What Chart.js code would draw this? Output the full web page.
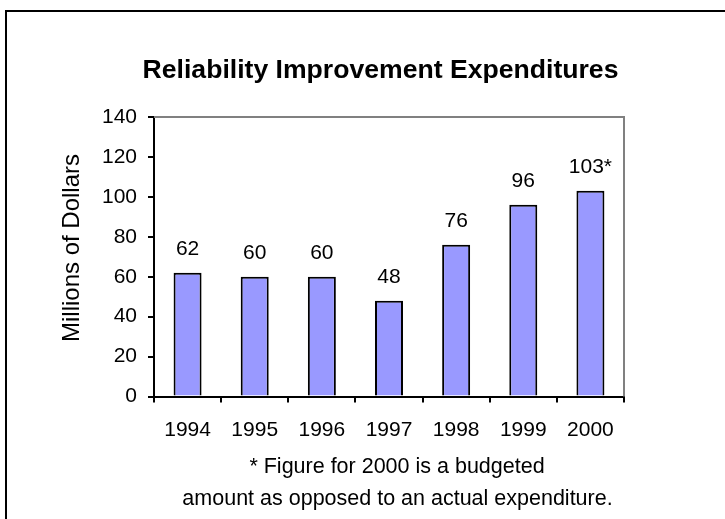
<!DOCTYPE html>
<html>
<head>
<meta charset="utf-8">
<title>Reliability Improvement Expenditures</title>
<script src="https://cdn.jsdelivr.net/npm/chart.js@4.4.0/dist/chart.umd.min.js"></script>
<style>
  html, body { margin: 0; padding: 0; background: #ffffff; overflow: hidden; }
  #graficoGastos { display: block; }
</style>
</head>
<body>
<canvas id="graficoGastos" width="725" height="519"></canvas>
<script>
// Datos del gráfico
var anios = ['1994', '1995', '1996', '1997', '1998', '1999', '2000'];
var gastos = [62, 60, 60, 48, 76, 96, 103];
var marcas = ['', '', '', '', '', '', '*'];
var ticksY = [0, 20, 40, 60, 80, 100, 120, 140];

var titulo = 'Reliability Improvement Expenditures';
var tituloEjeY = 'Millions of Dollars';
var notas = ['* Figure for 2000 is a budgeted', 'amount as opposed to an actual expenditure.'];

var fuente = "'Liberation Sans', Arial, sans-serif";

// Textos, marco y etiquetas de valor dibujados a mano
var textosExtra = {
    id: 'textosExtra',
    afterDraw: function (chart) {
        var ctx = chart.ctx;
        var area = chart.chartArea;
        ctx.save();

        // marco exterior (solo se ven el lado izquierdo y el de arriba)
        ctx.strokeStyle = '#000000';
        ctx.lineWidth = 2;
        ctx.beginPath();
        ctx.moveTo(6, chart.height + 5);
        ctx.lineTo(6, 11);
        ctx.lineTo(chart.width + 5, 11);
        ctx.stroke();

        // borde gris del área de trazado
        ctx.strokeStyle = '#808080';
        ctx.beginPath();
        ctx.moveTo(area.left, area.top);
        ctx.lineTo(area.right, area.top);
        ctx.lineTo(area.right, area.bottom);
        ctx.stroke();

        ctx.fillStyle = '#000000';
        ctx.textAlign = 'center';
        ctx.textBaseline = 'alphabetic';

        // etiquetas encima de cada barra
        ctx.font = '21px ' + fuente;
        var meta = chart.getDatasetMeta(0);
        meta.data.forEach(function (barra, i) {
            ctx.fillText(gastos[i] + marcas[i], barra.x, barra.y - 18);
        });

        // título
        ctx.font = 'bold 26.6px ' + fuente;
        ctx.fillText(titulo, 380.5, 78);

        // nota al pie
        ctx.font = '21.5px ' + fuente;
        ctx.fillText(notas[0], 397, 472.5);
        ctx.fillText(notas[1], 397.5, 504.5);

        // título del eje Y
        ctx.translate(72, 248);
        ctx.rotate(-Math.PI / 2);
        ctx.textBaseline = 'middle';
        ctx.font = '24px ' + fuente;
        ctx.fillText(tituloEjeY, 0, 0);

        ctx.restore();
    }
};

function crearGrafico() {
    var ctx = document.getElementById('graficoGastos').getContext('2d');

    var config = {
        type: 'bar',
        data: {
            labels: anios,
            datasets: [{
                label: titulo,
                data: gastos,
                backgroundColor: '#9999ff',
                borderColor: '#000000',
                borderWidth: 2,
                categoryPercentage: 1,
                barPercentage: 0.417
            }]
        },
        options: {
            responsive: false,
            animation: false,
            layout: {
                padding: { left: 20, right: 101, top: 117, bottom: 0 }
            },
            plugins: {
                legend: { display: false },
                title: { display: false },
                tooltip: { enabled: false }
            },
            scales: {
                x: {
                    afterFit: function (scale) { scale.height = 122.5; },
                    grid: {
                        offset: true,
                        drawOnChartArea: false,
                        drawTicks: true,
                        tickLength: 6,
                        color: '#000000',
                        lineWidth: 2
                    },
                    border: { display: true, color: '#000000', width: 2 },
                    ticks: {
                        color: '#000000',
                        font: { family: fuente, size: 21 },
                        padding: 15,
                        maxRotation: 0
                    }
                },
                y: {
                    min: ticksY[0],
                    max: ticksY[ticksY.length - 1],
                    afterFit: function (scale) { scale.width = 134; },
                    grid: {
                        drawOnChartArea: false,
                        drawTicks: true,
                        tickLength: 6,
                        color: '#000000',
                        lineWidth: 2
                    },
                    border: { display: true, color: '#000000', width: 2 },
                    ticks: {
                        stepSize: ticksY[1] - ticksY[0],
                        color: '#000000',
                        font: { family: fuente, size: 21 },
                        padding: 11
                    }
                }
            }
        },
        plugins: [textosExtra]
    };

    var myChart = new Chart(ctx, config);
}

crearGrafico();
</script>
</body>
</html>
